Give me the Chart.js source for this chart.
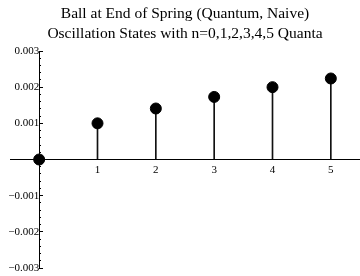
<!DOCTYPE html>
<html>
<head>
<meta charset="utf-8">
<script src="https://cdn.jsdelivr.net/npm/chart.js@4/dist/chart.umd.min.js"></script>
<style>
  html, body { margin: 0; padding: 0; background: #fff; }
  #wrap { width: 360px; height: 276px; }
</style>
</head>
<body>
<div id="wrap"><canvas id="chartSpring"></canvas></div>
<script>
// n quanta and amplitude
const quanta = [0, 1, 2, 3, 4, 5];
const amplitude = [0, 0.00100, 0.00141, 0.00173, 0.00200, 0.00224];

const xTicks = [1, 2, 3, 4, 5];
const yMajorTicks = [-0.003, -0.002, -0.001, 0, 0.001, 0.002, 0.003];
const yMajorLabels = ['\u22120.003', '\u22120.002', '\u22120.001', '', '0.001', '0.002', '0.003'];
const yMinorTicks = [-0.0028, -0.0026, -0.0024, -0.0022, -0.0018, -0.0016, -0.0014, -0.0012,
  -0.0008, -0.0006, -0.0004, -0.0002, 0.0002, 0.0004, 0.0006, 0.0008,
  0.0012, 0.0014, 0.0016, 0.0018, 0.0022, 0.0024, 0.0026, 0.0028];

const titleLines = ['Ball at End of Spring (Quantum, Naive)', 'Oscillation States with n=0,1,2,3,4,5 Quanta'];

const points = quanta.map((n, i) => ({ x: n, y: amplitude[i] }));
const stems = quanta.slice(1).map((n, i) => ({ x: n, y: amplitude[i + 1] }));

const serif = "'Liberation Serif', 'DejaVu Serif', serif";

// axes sit inside the plot, so they must not push the plot area around
const noPadding = scale => {
  scale.paddingLeft = 0;
  scale.paddingRight = 0;
  scale.paddingTop = 0;
  scale.paddingBottom = 0;
};

new Chart(document.getElementById('chartSpring').getContext('2d'), {
  data: {
    datasets: [
      {
        type: 'scatter',
        data: points,
        backgroundColor: '#000',
        borderColor: '#000',
        pointRadius: 5.5,
        pointHoverRadius: 5.5,
        order: 0
      },
      {
        type: 'bar',
        data: stems,
        backgroundColor: '#111',
        barThickness: 1,
        order: 1
      }
    ]
  },
  options: {
    responsive: true,
    maintainAspectRatio: false,
    animation: false,
    layout: { autoPadding: false, padding: { left: 10, right: 0, top: 0, bottom: 8 } },
    plugins: {
      legend: { display: false },
      tooltip: { enabled: false },
      title: {
        display: true,
        text: titleLines,
        color: '#000',
        font: { family: serif, size: 15.5, weight: 'normal', lineHeight: '20px' },
        padding: { top: 4, bottom: 7 }
      }
    },
    scales: {
      x: {
        type: 'linear',
        min: -0.5,
        max: 5.5,
        offset: false,
        position: { y: 0 },
        afterBuildTicks: scale => { scale.ticks = xTicks.map(v => ({ value: v })); },
        afterFit: noPadding,
        grid: { display: false, drawTicks: false, offset: false },
        border: { display: true, color: '#000', width: 1 },
        ticks: { color: '#000', padding: 4, font: { family: serif, size: 11 }, maxRotation: 0, autoSkip: false }
      },
      y: {
        type: 'linear',
        min: -0.003,
        max: 0.003,
        position: { x: 0 },
        afterBuildTicks: scale => { scale.ticks = yMajorTicks.map(v => ({ value: v })); },
        afterFit: noPadding,
        grid: { display: true, drawOnChartArea: false, drawTicks: true, tickLength: -4, color: '#000' },
        border: { display: true, color: '#000', width: 1 },
        ticks: {
          color: '#000', padding: 7, autoSkip: false,
          font: { family: serif, size: 11 },
          callback: (v, i) => yMajorLabels[i]
        }
      },
      yMinor: {
        type: 'linear',
        min: -0.003,
        max: 0.003,
        position: { x: 0 },
        afterBuildTicks: scale => { scale.ticks = yMinorTicks.map(v => ({ value: v })); },
        afterFit: noPadding,
        grid: { display: true, drawOnChartArea: false, drawTicks: true, tickLength: -2, color: '#000' },
        border: { display: false },
        ticks: { display: false, autoSkip: false }
      }
    }
  }
});
</script>
</body>
</html>
